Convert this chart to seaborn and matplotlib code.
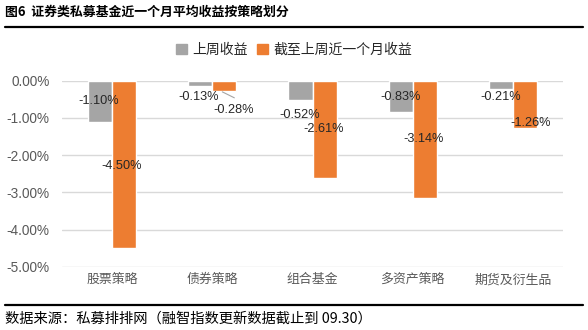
import matplotlib
matplotlib.use("Agg")
import matplotlib.pyplot as plt
import seaborn as sns
import pandas as pd
from matplotlib.lines import Line2D
from matplotlib.patches import Rectangle

categories = ["股票策略", "债券策略", "组合基金", "多资产策略", "期货及衍生品"]
series_names = ["上周收益", "截至上周近一个月收益"]
last_week = [-1.10, -0.13, -0.52, -0.83, -0.21]
last_month = [-4.50, -0.28, -2.61, -3.14, -1.26]
yticks = [0, -1, -2, -3, -4, -5]

title = "图6  证券类私募基金近一个月平均收益按策略划分"
source = "数据来源：私募排排网（融智指数更新数据截止到 09.30）"

colors = ["#A5A5A5", "#ED7D31"]

sns.set_theme(style="white")
plt.rcParams["font.family"] = ["Liberation Sans", "Noto Sans CJK SC", "DejaVu Sans"]

df = pd.DataFrame({
    "cat": categories * 2,
    "series": [series_names[0]] * len(categories) + [series_names[1]] * len(categories),
    "val": last_week + last_month,
})

fig = plt.figure(figsize=(5.88, 3.30), dpi=100)
ax = fig.add_axes([62 / 588, 1 - 266.7 / 330, (563 - 62) / 588, (266.7 - 80.7) / 330])

sns.barplot(data=df, x="cat", y="val", hue="series", hue_order=series_names,
            palette=colors, width=0.48, gap=0, ax=ax, legend=False, saturation=1)

ax.set_ylim(-5, 0)
ax.set_xlim(-0.5, len(categories) - 0.5)
ax.set_yticks(yticks)
ax.set_yticklabels([f"{v:.2f}%" for v in yticks], fontsize=9.8, color="#595959")
ax.tick_params(axis="x", labelsize=9.3, colors="#595959", length=0, pad=5)
ax.tick_params(axis="y", length=0, pad=9)
ax.set_xlabel("")
ax.set_ylabel("")
ax.grid(axis="y", color="#D9D9D9", linewidth=1)
ax.set_axisbelow(True)
for s in ax.spines.values():
    s.set_visible(False)

# data labels: (series index, category index) -> (dx in category units, y in %)
label_pos = {
    (0, 0): (-0.13, -0.55), (1, 0): (0.10, -2.28),
    (0, 1): (-0.14, -0.45), (1, 1): (0.21, -0.80),
    (0, 2): (-0.13, -0.92), (1, 2): (0.11, -1.30),
    (0, 3): (-0.12, -0.45), (1, 3): (0.11, -1.57),
    (0, 4): (-0.12, -0.45), (1, 4): (0.18, -1.15),
}
for si, vals in enumerate([last_week, last_month]):
    for ci, v in enumerate(vals):
        dx, y = label_pos[(si, ci)]
        ax.text(ci + dx, y, f"{v:.2f}%", ha="center", va="center",
                fontsize=9.2, color="#262626", clip_on=False)
# leader line for the small bond-strategy label
ax.plot([1.10, 1.22], [-0.30, -0.46], color="#A5A5A5", linewidth=0.8, clip_on=False)

# title and rules
fig.text(5 / 588, 1 - 12 / 330, title, ha="left", va="center", fontsize=9.3,
         fontweight="heavy", family=["Noto Sans CJK SC", "DejaVu Sans"], color="#000000")
fig.add_artist(Line2D([5 / 588, 583 / 588], [1 - 27 / 330] * 2, color="black", linewidth=1.6))
fig.add_artist(Line2D([5 / 588, 583 / 588], [1 - 305 / 330] * 2, color="black", linewidth=1.6))
fig.text(5 / 588, 1 - 319 / 330, source, ha="left", va="center", fontsize=10.3,
         family=["Noto Sans CJK SC", "DejaVu Sans"], color="#000000")

# legend
handles = [Rectangle((0, 0), 1, 1, color=c) for c in colors]
fig.legend(handles, series_names, loc="center", bbox_to_anchor=(294 / 588, 1 - 50 / 330),
           ncol=2, frameon=False, handlelength=0.8, handleheight=0.8,
           handletextpad=0.4, columnspacing=0.6,
           prop={"family": ["Noto Sans CJK SC", "DejaVu Sans"], "size": 10})

fig.savefig("out.png", dpi=100)
